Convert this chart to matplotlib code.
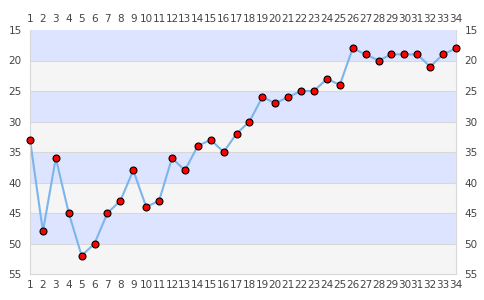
import matplotlib
matplotlib.use("Agg")
import matplotlib.pyplot as plt

x = list(range(1, 35))
values = [33, 48, 36, 45, 52, 50, 45, 43, 38, 44, 43, 36, 38, 34, 33, 35, 32, 30,
          26, 27, 26, 25, 25, 23, 24, 18, 19, 20, 19, 19, 19, 21, 19, 18]
y_ticks = [15, 20, 25, 30, 35, 40, 45, 50, 55]
band_colors = ["#dde4ff", "#f5f5f5"]

fig = plt.figure(figsize=(4.85, 3.0), dpi=100)
ax = fig.add_axes([30/485, 26/300, 426/485, 244/300])
ax.set_xlim(1, 34)
ax.set_ylim(55, 15)

for i in range(len(y_ticks) - 1):
    ax.axhspan(y_ticks[i], y_ticks[i+1], color=band_colors[i % 2], zorder=0, lw=0)
for t in y_ticks[1:-1]:
    ax.axhline(t, color="#d8d8d8", lw=0.8, zorder=1)

ax.plot(x, values, color="#7cb5ec", lw=1.5, zorder=2, clip_on=False)
ax.plot(x, values, ls="none", marker="o", ms=5, mfc="#ff0000", mec="#000000",
        mew=0.8, zorder=3, clip_on=False)

ax.set_xticks(x)
ax.set_xticklabels([str(v) for v in x])
ax.set_yticks(y_ticks)
ax.tick_params(axis="both", length=0, labelsize=7.5, labelcolor="#444444")
ax.tick_params(axis="x", top=True, labeltop=True, bottom=True, labelbottom=True, pad=4)
ax.tick_params(axis="y", left=True, labelleft=True, right=True, labelright=True, pad=6)

for side in ["left", "bottom", "right"]:
    ax.spines[side].set_color("#d8d8d8")
    ax.spines[side].set_linewidth(0.8)
ax.spines["top"].set_visible(False)

fig.savefig("out.png", dpi=100)
